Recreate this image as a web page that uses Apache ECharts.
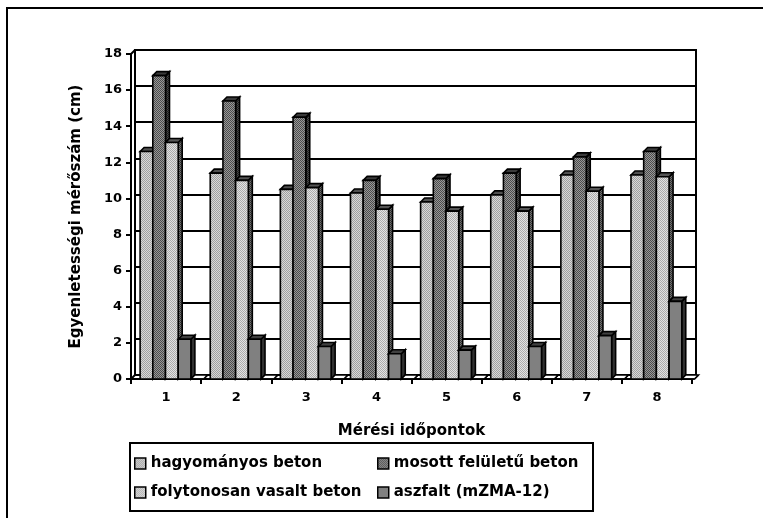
<!DOCTYPE html>
<html>
<head>
<meta charset="utf-8">
<script src="https://cdn.jsdelivr.net/npm/echarts@6/dist/echarts.min.js"></script>
<style>
  html, body { margin: 0; padding: 0; background: #fff; }
  #chart { width: 763px; height: 518px; }
</style>
</head>
<body>
<div id="chart"></div>
<script>
// Mérési időpontok (measurement rounds)
const categories = ['1', '2', '3', '4', '5', '6', '7', '8'];

// Egyenletességi mérőszám (cm) per pavement type
const hagyomanyosBeton = [12.6, 11.4, 10.5, 10.3, 9.8, 10.2, 11.3, 11.3];
const mosottFeluletuBeton = [16.8, 15.4, 14.5, 11.0, 11.1, 11.4, 12.3, 12.6];
const folytonosanVasaltBeton = [13.1, 11.0, 10.6, 9.4, 9.3, 9.3, 10.4, 11.2];
const aszfalt = [2.2, 2.2, 1.8, 1.4, 1.6, 1.8, 2.4, 4.3];
const otodikSorozat = [0, 0, 0, 0, 0, 0, 0, 0];

const seriesNames = ['hagyományos beton', 'mosott felületű beton', 'folytonosan vasalt beton', 'aszfalt (mZMA-12)'];

// value axis range
const yMin = 0, yMax = 18, yStep = 2;

const FONT = "'DejaVu Sans', 'Liberation Sans', Arial, sans-serif";

// small dithered fills, like old halftone bar patterns
function dither(light, dark) {
  const cv = document.createElement('canvas');
  cv.width = 4; cv.height = 4;
  const ctx = cv.getContext('2d');
  ctx.fillStyle = light;
  ctx.fillRect(0, 0, 4, 4);
  ctx.fillStyle = dark;
  for (let y = 0; y < 4; y++) {
    for (let x = 0; x < 4; x++) {
      if ((x + y) % 2 === 0) ctx.fillRect(x, y, 1, 1);
    }
  }
  return { image: cv, repeat: 'repeat' };
}

const fills = [
  { face: dither('#d8d8d8', '#a0a0a0'), top: '#505050', side: dither('#6a6a6a', '#2a2a2a') },
  { face: dither('#989898', '#4c4c4c'), top: '#3a3a3a', side: dither('#4a4a4a', '#1a1a1a') },
  { face: dither('#e2e2e2', '#acacac'), top: '#555555', side: dither('#707070', '#303030') },
  { face: '#808080', top: '#404040', side: '#303030' },
  { face: '#ffffff', top: '#ffffff', side: '#ffffff' }
];

const DEPTH = 4;

function makeRender(slot) {
  const f = fills[slot];
  return function (params, api) {
    const i = api.value(0);
    const v = api.value(1);
    const base = api.coord([i, 0]);
    const top = api.coord([i, v]);
    const band = api.size([1, 0])[0];
    const bw = band * 0.181;
    const x0 = base[0] - band / 2 + band * 0.13 + slot * bw;
    const x1 = x0 + bw;
    const yb = base[1];
    const yt = top[1];
    const d = DEPTH;
    const lw = 1.6;
    return {
      type: 'group',
      children: [
        { type: 'polygon', shape: { points: [[x1, yt], [x1 + d, yt - d], [x1 + d, yb - d], [x1, yb]] },
          style: { fill: f.side, stroke: '#000', lineWidth: lw } },
        { type: 'polygon', shape: { points: [[x0, yt], [x0 + d, yt - d], [x1 + d, yt - d], [x1, yt]] },
          style: { fill: f.top, stroke: '#000', lineWidth: lw } },
        { type: 'rect', shape: { x: x0, y: yt, width: bw, height: yb - yt },
          style: { fill: f.face, stroke: '#000', lineWidth: lw } }
      ]
    };
  };
}

const allValues = [hagyomanyosBeton, mosottFeluletuBeton, folytonosanVasaltBeton, aszfalt, otodikSorozat];
const allNames = seriesNames.concat(['ötödik']);

const series = allValues.map((vals, s) => ({
  type: 'custom',
  name: allNames[s],
  xAxisIndex: 0,
  yAxisIndex: 0,
  renderItem: makeRender(s),
  itemStyle: { color: fills[s].face, borderColor: '#000', borderWidth: 1.5 },
  encode: { x: 0, y: 1 },
  data: vals.map((v, i) => [i, v]),
  animation: false
}));

function legendItem(idx) {
  return { name: seriesNames[idx], itemStyle: { color: fills[idx].face, borderColor: '#000', borderWidth: 1.5 } };
}

const legendText = { color: '#000', fontWeight: 'bold', fontSize: 15, fontFamily: FONT };

const chart = echarts.init(document.getElementById('chart'), null, { renderer: 'canvas' });

const option = {
  animation: false,
  backgroundColor: '#fff',
  grid: [
    { left: 131, right: 71, top: 54, bottom: 139 },
    { left: 135, right: 67, top: 50, bottom: 143, show: true, borderColor: '#000', borderWidth: 2, backgroundColor: 'transparent' }
  ],
  xAxis: [
    {
      type: 'category', gridIndex: 0, data: categories,
      axisLine: { lineStyle: { color: '#000', width: 2 } },
      axisTick: { show: true, length: 5, lineStyle: { color: '#000', width: 2 } },
      axisLabel: { color: '#000', fontWeight: 'bold', fontSize: 13, fontFamily: FONT, margin: 12 },
      splitLine: { show: false },
      name: 'Mérési időpontok', nameLocation: 'middle', nameGap: 45,
      nameTextStyle: { color: '#000', fontWeight: 'bold', fontSize: 15, fontFamily: FONT }
    },
    { type: 'category', gridIndex: 1, data: categories, show: false }
  ],
  yAxis: [
    {
      type: 'value', gridIndex: 0, min: yMin, max: yMax, interval: yStep,
      axisLine: { show: true, lineStyle: { color: '#000', width: 2 } },
      axisTick: { show: true, length: 5, lineStyle: { color: '#000', width: 2 } },
      axisLabel: { color: '#000', fontWeight: 'bold', fontSize: 13, fontFamily: FONT, margin: 9 },
      splitLine: { show: false },
      name: 'Egyenletességi mérőszám (cm)', nameLocation: 'middle', nameGap: 47, nameRotate: 90,
      nameTextStyle: { color: '#000', fontWeight: 'bold', fontSize: 15, fontFamily: FONT }
    },
    {
      type: 'value', gridIndex: 1, min: yMin, max: yMax, interval: yStep,
      axisLine: { show: false }, axisTick: { show: false }, axisLabel: { show: false },
      splitLine: { show: true, lineStyle: { color: '#000', width: 2 } }
    }
  ],
  legend: [
    {
      orient: 'vertical', left: 129, top: 451, itemGap: 14, itemWidth: 11, itemHeight: 11,
      icon: 'rect', textStyle: legendText, selectedMode: false,
      data: [legendItem(0), legendItem(2)]
    },
    {
      orient: 'vertical', left: 372, top: 451, itemGap: 14, itemWidth: 11, itemHeight: 11,
      icon: 'rect', textStyle: legendText, selectedMode: false,
      data: [legendItem(1), legendItem(3)]
    }
  ],
  graphic: [
    { type: 'rect', silent: true, shape: { x: 7, y: 8, width: 800, height: 600 },
      style: { fill: 'none', stroke: '#000', lineWidth: 2 }, z: 0 },
    { type: 'rect', silent: true, shape: { x: 130, y: 443, width: 463, height: 68 },
      style: { fill: 'none', stroke: '#000', lineWidth: 2 }, z: 0 }
  ],
  series: series
};

chart.setOption(option);

// connect the front axes to the back wall corners
const tl = chart.convertToPixel({ xAxisIndex: 0, yAxisIndex: 0 }, [0, yMax]);
const bl = chart.convertToPixel({ xAxisIndex: 0, yAxisIndex: 0 }, [0, yMin]);
const band = chart.convertToPixel({ xAxisIndex: 0 }, 1) - chart.convertToPixel({ xAxisIndex: 0 }, 0);
const leftX = bl[0] - band / 2;
const rightX = leftX + band * categories.length;
const frameLine = (x1, y1, x2, y2) => ({ type: 'line', silent: true, z: 1,
  shape: { x1, y1, x2, y2 }, style: { stroke: '#000', lineWidth: 2 } });
chart.setOption({
  graphic: option.graphic.concat([
    frameLine(leftX, tl[1], leftX + DEPTH, tl[1] - DEPTH),
    frameLine(leftX, bl[1], leftX + DEPTH, bl[1] - DEPTH),
    frameLine(rightX, bl[1], rightX + DEPTH, bl[1] - DEPTH)
  ])
});
</script>
</body>
</html>
